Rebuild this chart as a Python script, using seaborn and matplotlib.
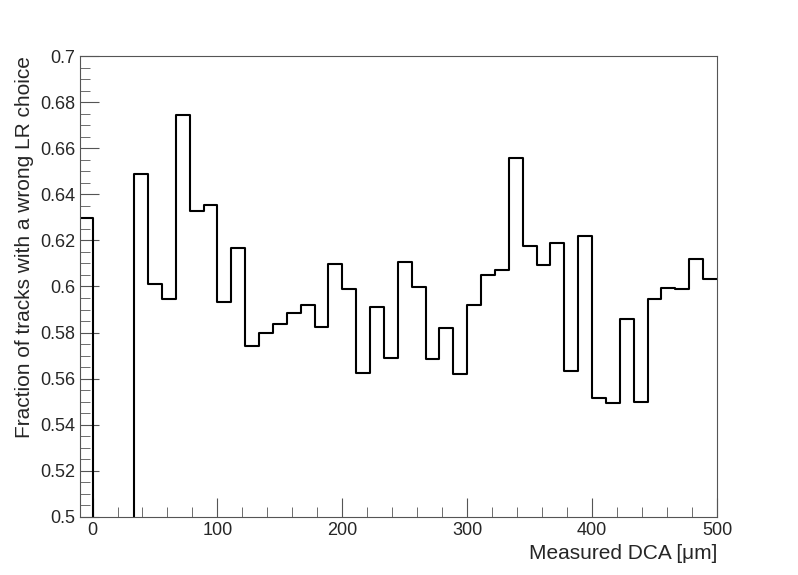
import numpy as np
import pandas as pd
import matplotlib.pyplot as plt
import seaborn as sns
from matplotlib.ticker import MultipleLocator

# bin contents (45 bins over 0..500 plus one bin left of zero)
bin_width = 500 / 45
edges = [k * bin_width for k in range(-1, 46)]
frac_wrong = [0.6299, 0.0, 0.0, 0.0, 0.6490, 0.6012, 0.5945, 0.6745, 0.6326, 0.6354,
              0.5933, 0.6167, 0.5740, 0.5797, 0.5836, 0.5884, 0.5919, 0.5823, 0.6097, 0.5988,
              0.5623, 0.5910, 0.5688, 0.6106, 0.5999, 0.5684, 0.5819, 0.5619, 0.5919, 0.6049,
              0.6071, 0.6558, 0.6175, 0.6093, 0.6188, 0.5633, 0.6219, 0.5516, 0.5493, 0.5858,
              0.5497, 0.5945, 0.5993, 0.5988, 0.6120, 0.6032]
centers = [(a + b) / 2 for a, b in zip(edges[:-1], edges[1:])]
df = pd.DataFrame({'dca': centers, 'frac': frac_wrong})

sns.set_style('ticks')
plt.rcParams['font.family'] = ['Liberation Sans', 'DejaVu Sans']

fig = plt.figure(figsize=(7.98, 5.75), dpi=100)
ax = fig.add_axes([0.1003, 0.1009, 0.7982, 0.8017])
sns.histplot(data=df, x='dca', weights='frac', bins=edges, element='step', fill=False,
             color='black', linewidth=1.5, ax=ax)

ax.set_xlim(-10, 500)
ax.set_ylim(0.5, 0.7)
ax.xaxis.set_major_locator(MultipleLocator(100))
ax.xaxis.set_minor_locator(MultipleLocator(20))
ax.set_yticks(np.arange(0.5, 0.701, 0.02))
ax.set_yticklabels(['0.5', '0.52', '0.54', '0.56', '0.58', '0.6', '0.62', '0.64', '0.66', '0.68', '0.7'])
ax.yaxis.set_minor_locator(MultipleLocator(0.005))
ax.tick_params(which='both', direction='in', top=False, right=False, labelsize=13)
ax.tick_params(which='major', length=14, color='#555555')
ax.tick_params(which='minor', length=7, color='#555555')
for s in ax.spines.values():
    s.set_color('#555555')
ax.set_xlabel('Measured DCA [\u03bcm]', fontsize=15, loc='right')
ax.set_ylabel('Fraction of tracks with a wrong LR choice', fontsize=15, loc='top')

fig.savefig('out.png', dpi=100)
